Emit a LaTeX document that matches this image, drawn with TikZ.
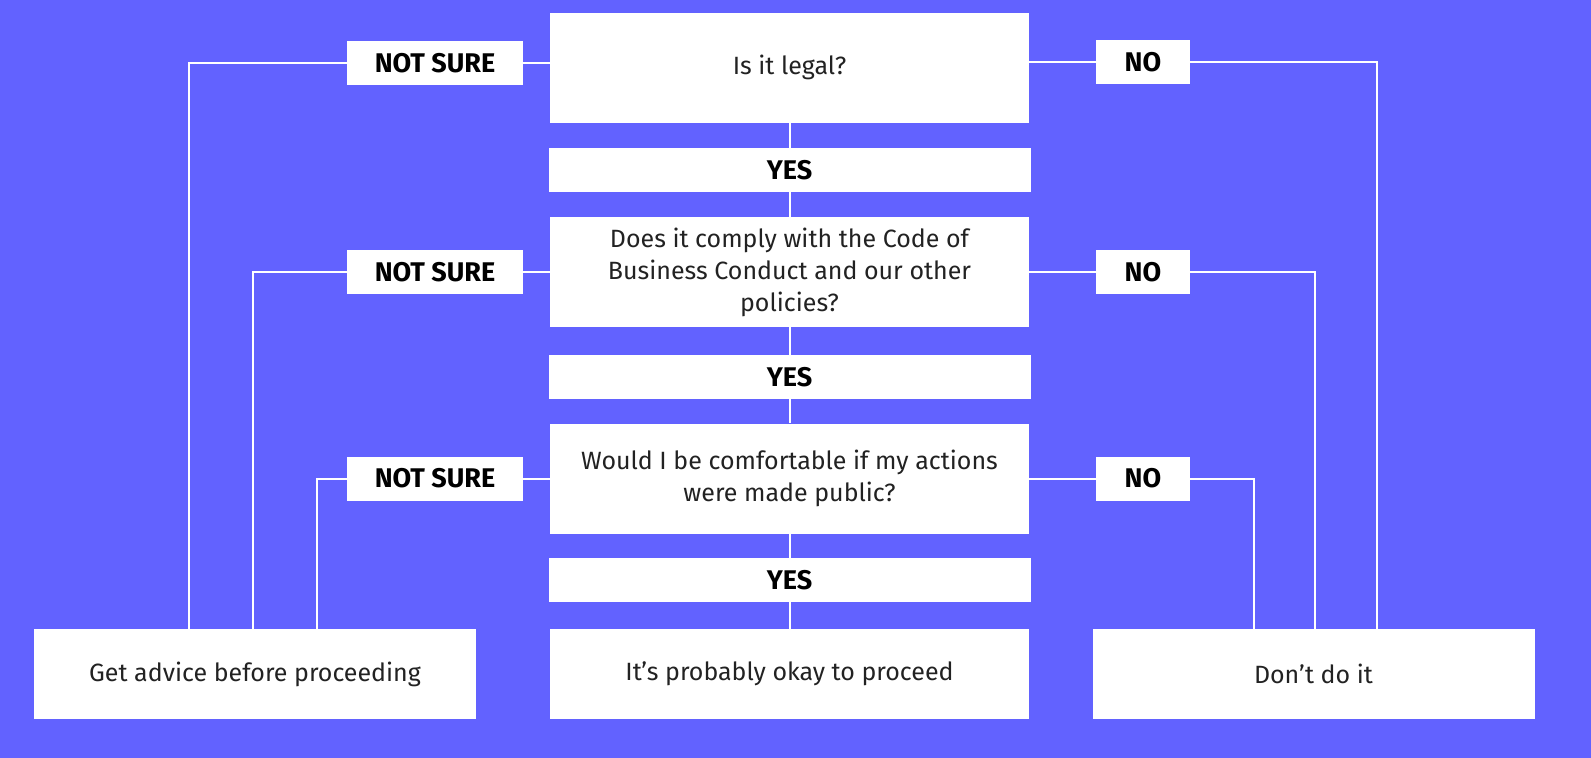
\documentclass[tikz,border=0pt]{standalone}
\usepackage{fontspec}
\setmainfont{Fira Sans}
\usetikzlibrary{backgrounds}
\definecolor{bgblue}{HTML}{6262FF}
\definecolor{txtgray}{HTML}{222222}
\begin{document}
\begin{tikzpicture}[x=1pt,y=-1pt,
        question/.style={fill=white,text=txtgray,inner sep=0pt,align=center,
            minimum width=479pt,minimum height=110pt,font=\fontsize{25}{32}\selectfont},
        yesbox/.style={fill=white,text=black,inner sep=0pt,
            minimum width=482pt,minimum height=44pt,font=\fontsize{27}{30}\selectfont\bfseries},
        sidebox/.style={fill=white,text=black,inner sep=0pt,
            minimum height=44pt,font=\fontsize{27}{30}\selectfont\bfseries},
        endbox/.style={fill=white,text=txtgray,inner sep=0pt,
            minimum width=442pt,minimum height=90pt,font=\fontsize{25}{32}\selectfont},
        wire/.style={white,line width=2pt}]
    \useasboundingbox (0,0) rectangle (1591,758);
    % middle column
    \node[question] (q1) at (789.5,67.5) {Is it legal?};
    \node[yesbox] (yes1) at (789.5,170) {YES};
    \node[question] (q2) at (789.5,272) {Does it comply with the Code of\\Business Conduct and our other\\policies?};
    \node[yesbox] (yes2) at (789.5,377) {YES};
    \node[question] (q3) at (789.5,478.5) {Would I be comfortable if my actions\\were made public?};
    \node[yesbox] (yes3) at (789.5,580) {YES};
    \node[endbox,minimum width=479pt] (okay) at (789.5,674) {It’s probably okay to proceed};
    % outcomes
    \node[endbox] (advice) at (255,674) {Get advice before proceeding};
    \node[endbox] (dont) at (1313.5,674) {Don’t do it};
    % answer labels
    \node[sidebox,minimum width=176pt] (ns1) at (435,63) {NOT SURE};
    \node[sidebox,minimum width=176pt] (ns2) at (435,272) {NOT SURE};
    \node[sidebox,minimum width=176pt] (ns3) at (435,478.5) {NOT SURE};
    \node[sidebox,minimum width=94pt] (no1) at (1143,62) {NO};
    \node[sidebox,minimum width=94pt] (no2) at (1143,272) {NO};
    \node[sidebox,minimum width=94pt] (no3) at (1143,478.5) {NO};
    % feet of the side lines
    \coordinate (adv1) at (189,629);
    \coordinate (adv2) at (253,629);
    \coordinate (adv3) at (317,629);
    \coordinate (dont1) at (1377,629);
    \coordinate (dont2) at (1315,629);
    \coordinate (dont3) at (1254,629);
    \begin{scope}[on background layer]
        \fill[bgblue] (0,0) rectangle (1591,758);
        \draw[wire] (q1) -- (yes1) -- (q2) -- (yes2) -- (q3) -- (yes3) -- (okay);
        \draw[wire] (q1.west |- ns1) -- (ns1) -| (adv1);
        \draw[wire] (q2.west |- ns2) -- (ns2) -| (adv2);
        \draw[wire] (q3.west |- ns3) -- (ns3) -| (adv3);
        \draw[wire] (q1.east |- no1) -- (no1) -| (dont1);
        \draw[wire] (q2.east |- no2) -- (no2) -| (dont2);
        \draw[wire] (q3.east |- no3) -- (no3) -| (dont3);
    \end{scope}
\end{tikzpicture}
\end{document}
